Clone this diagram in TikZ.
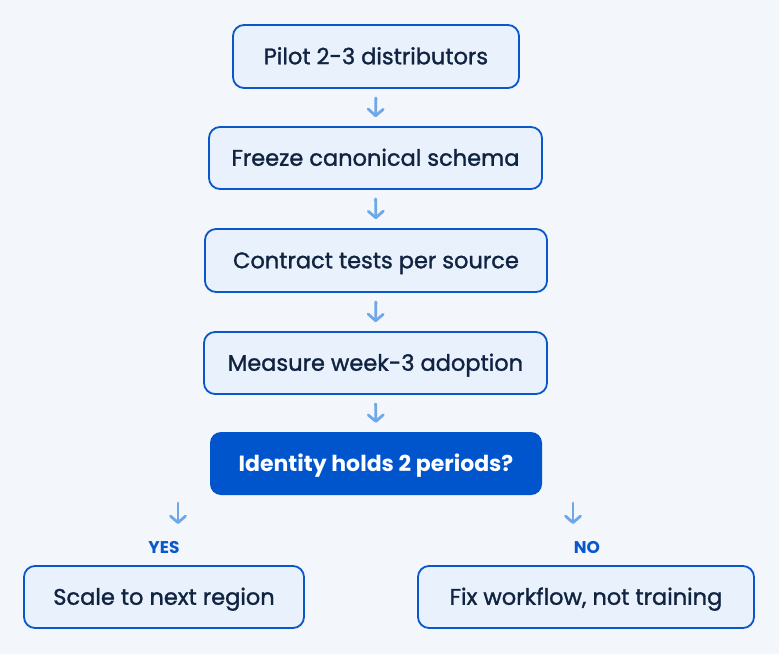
\documentclass[tikz,border=0pt]{standalone}
\usepackage{fontspec}
\setmainfont{Poppins}
\newfontfamily\medfont{Poppins}[FakeBold=1.3]
\usetikzlibrary{arrows.meta}
\definecolor{bgc}{HTML}{F3F7FC}
\definecolor{boxfill}{HTML}{E8F1FC}
\definecolor{boxline}{HTML}{0A57CC}
\definecolor{txt}{HTML}{102341}
\definecolor{decfill}{HTML}{0055CC}
\definecolor{arrc}{HTML}{6EA8E8}
\tikzset{
  stepbox/.style={draw=boxline, line width=1.8pt, fill=boxfill, rounded corners=11pt,
    text=txt, font=\medfont\fontsize{22.5}{25}\selectfont, inner sep=0pt, anchor=center,
    text height=15.5pt, text depth=0pt},
  decbox/.style={fill=decfill, rounded corners=11pt, text=white,
    font=\fontsize{22}{25}\selectfont\bfseries, inner sep=0pt, anchor=center,
    text height=15.5pt, text depth=0pt},
  flow/.style={draw=arrc, line width=2.8pt, line cap=round,
    -{Straight Barb[length=6.5pt,width=15pt,line cap=round, line join=round]}},
  lbl/.style={text=boxline, font=\fontsize{17}{19}\selectfont\bfseries, inner sep=0pt}
}
\begin{document}
\begin{tikzpicture}[x=1pt,y=-1pt]
\fill[bgc] (0,0) rectangle (779,654);
\useasboundingbox (0,0) rectangle (779,654);
\node[stepbox, minimum width=286pt, minimum height=63pt] (n1) at (376,56.5) {Pilot 2-3 distributors};
\node[stepbox, minimum width=333pt, minimum height=62pt] (n2) at (375.5,158) {Freeze canonical schema};
\node[stepbox, minimum width=342pt, minimum height=63pt] (n3) at (376,260.5) {Contract tests per source};
\node[stepbox, minimum width=343pt, minimum height=62pt] (n4) at (375.5,363) {Measure week-3 adoption};
\node[decbox, minimum width=332pt, minimum height=63pt] (d) at (376,463.5) {Identity holds 2 periods?};
\node[stepbox, minimum width=280pt, minimum height=62pt] (y) at (164,597) {Scale to next region};
\node[stepbox, minimum width=336pt, minimum height=62pt] (n) at (586,597) {Fix workflow, not training};
\node[lbl] (ylab) at (164,547) {YES};
\node[lbl] (nlab) at (587,547) {NO};
\draw[flow, shorten <=9pt, shorten >=9pt] (n1.south) -- (n2.north);
\draw[flow, shorten <=9pt, shorten >=9pt] (n2.south) -- (n3.north);
\draw[flow, shorten <=9pt, shorten >=9pt] (n3.south) -- (n4.north);
\draw[flow, shorten <=9pt, shorten >=9pt] (n4.south) -- (d.north);
\coordinate (ya) at (178,503);
\coordinate (yb) at (178,524);
\coordinate (na) at (573,503);
\coordinate (nb) at (573,524);
\draw[flow] (ya) -- (yb);
\draw[flow] (na) -- (nb);
\end{tikzpicture}
\end{document}
